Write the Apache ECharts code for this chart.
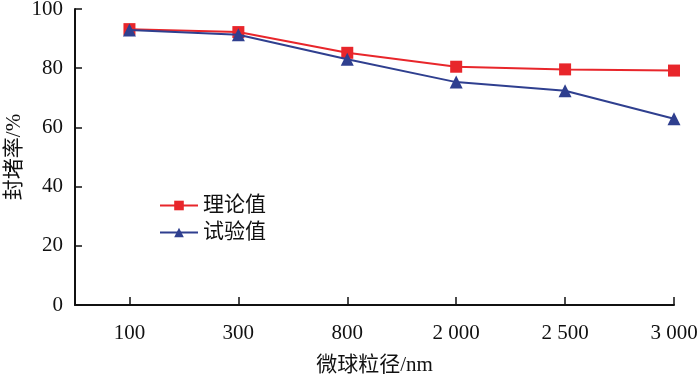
<!DOCTYPE html>
<html>
<head>
<meta charset="utf-8">
<script src="https://cdn.jsdelivr.net/npm/echarts@6/dist/echarts.min.js"></script>
<style>
  html, body { margin: 0; padding: 0; background: #fff; }
  #chart { width: 700px; height: 380px; }
</style>
</head>
<body>
<div id="chart"></div>
<script>
// particle sizes (nm) shown as evenly spaced categories
const sizes = ['100', '300', '800', '2 000', '2 500', '3 000'];
const theoryValues = [93.2, 92.2, 85.2, 80.5, 79.6, 79.2];
const testValues = [92.9, 91.3, 83.0, 75.3, 72.4, 62.9];
const yTicks = [0, 20, 40, 60, 80, 100];

const FONT = '"Liberation Serif", "Noto Sans CJK SC", serif';
const RED = '#e8262b';
const BLUE = '#2f3f8f';

const positions = sizes.map((_, i) => i);
const toPoints = (vals) => vals.map((v, i) => [positions[i], v]);

const chart = echarts.init(document.getElementById('chart'));
chart.setOption({
  animation: false,
  grid: { left: 75, right: 26, top: 9, bottom: 75, containLabel: false, outerBoundsMode: 'none' },
  legend: {
    orient: 'vertical',
    left: 154,
    top: 190,
    itemWidth: 38,
    itemHeight: 12,
    itemGap: 6,
    textStyle: { fontFamily: FONT, fontSize: 21, color: '#111' },
    data: ['理论值', '试验值'],
  },
  xAxis: {
    type: 'value',
    min: -0.5,
    max: 5,
    name: '微球粒径/nm',
    nameLocation: 'middle',
    nameGap: 50,
    nameTextStyle: { fontFamily: FONT, fontSize: 21, color: '#111' },
    axisLine: { onZero: false, lineStyle: { color: '#111', width: 2 } },
    axisTick: { inside: true, length: 8, lineStyle: { color: '#111', width: 1.5 }, customValues: positions },
    axisLabel: {
      customValues: positions,
      margin: 18,
      fontFamily: FONT,
      fontSize: 21,
      color: '#111',
      formatter: (v) => sizes[Math.round(v)],
    },
    splitLine: { show: false },
  },
  yAxis: {
    type: 'value',
    min: 0,
    max: 100,
    interval: 20,
    name: '封堵率/%',
    nameLocation: 'middle',
    nameGap: 50,
    nameMoveOverlap: false,
    nameTextStyle: { fontFamily: FONT, fontSize: 21, color: '#111' },
    axisLine: { show: true, onZero: false, lineStyle: { color: '#111', width: 2 } },
    axisTick: { show: true, inside: true, length: 7, lineStyle: { color: '#111', width: 1.5 }, customValues: yTicks },
    axisLabel: { margin: 12, fontFamily: FONT, fontSize: 21, color: '#111' },
    splitLine: { show: false },
  },
  series: [
    {
      name: '理论值',
      type: 'line',
      data: toPoints(theoryValues),
      symbol: 'rect',
      symbolSize: 12,
      lineStyle: { color: RED, width: 2 },
      itemStyle: { color: RED },
      z: 2,
    },
    {
      name: '试验值',
      type: 'line',
      data: toPoints(testValues),
      symbol: 'triangle',
      symbolSize: 13,
      lineStyle: { color: BLUE, width: 2 },
      itemStyle: { color: BLUE },
      z: 3,
    },
  ],
});
</script>
</body>
</html>
